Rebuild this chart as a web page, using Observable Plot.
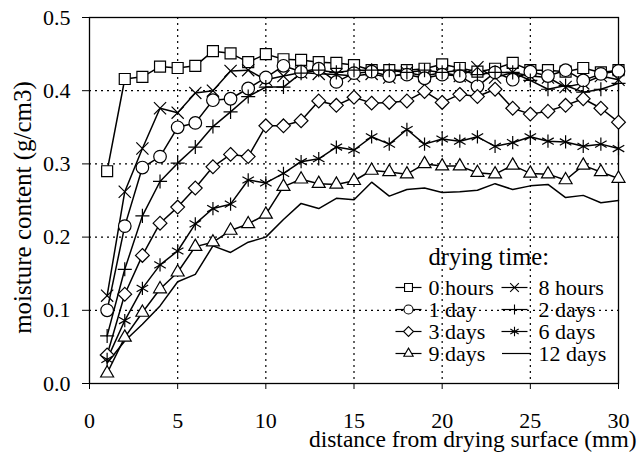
<!DOCTYPE html>
<html><head><meta charset="utf-8">
<script src="https://cdn.jsdelivr.net/npm/d3@7"></script>
<script src="https://cdn.jsdelivr.net/npm/@observablehq/plot@0.6"></script>
<style>body{margin:0;background:#fff}</style>
</head><body><div id="chart"></div>
<script>
// distance from drying surface (mm)
const distance = [1,2,3,4,5,6,7,8,9,10,11,12,13,14,15,16,17,18,19,20,21,22,23,24,25,26,27,28,29,30];
// moisture content (g/cm3) per drying time
const hours0 = [0.290,0.416,0.419,0.433,0.431,0.434,0.454,0.451,0.439,0.450,0.443,0.442,0.439,0.438,0.435,0.428,0.428,0.428,0.430,0.436,0.431,0.426,0.430,0.438,0.428,0.428,0.426,0.431,0.425,0.428];
const hours8 = [0.120,0.262,0.321,0.376,0.370,0.397,0.400,0.427,0.428,0.415,0.420,0.425,0.423,0.422,0.420,0.423,0.418,0.425,0.420,0.425,0.420,0.432,0.418,0.425,0.420,0.418,0.405,0.410,0.420,0.415];
const day1   = [0.100,0.215,0.295,0.310,0.350,0.356,0.387,0.389,0.403,0.418,0.434,0.426,0.430,0.412,0.424,0.426,0.420,0.422,0.417,0.422,0.420,0.406,0.425,0.415,0.426,0.420,0.428,0.414,0.423,0.427];
const days2  = [0.065,0.156,0.229,0.276,0.301,0.323,0.351,0.371,0.392,0.405,0.405,0.424,0.428,0.425,0.428,0.428,0.428,0.425,0.428,0.425,0.428,0.422,0.425,0.425,0.414,0.402,0.407,0.398,0.402,0.410];
const days3  = [0.039,0.122,0.175,0.219,0.241,0.267,0.296,0.313,0.310,0.352,0.352,0.359,0.386,0.380,0.391,0.383,0.384,0.386,0.399,0.384,0.395,0.392,0.402,0.376,0.368,0.372,0.380,0.389,0.376,0.357];
const days6  = [0.033,0.086,0.130,0.162,0.181,0.218,0.239,0.245,0.278,0.274,0.287,0.303,0.307,0.323,0.319,0.337,0.327,0.347,0.327,0.334,0.331,0.337,0.324,0.329,0.337,0.331,0.330,0.324,0.327,0.321];
const days9  = [0.014,0.063,0.097,0.129,0.152,0.187,0.193,0.209,0.218,0.231,0.269,0.279,0.273,0.272,0.277,0.291,0.289,0.286,0.300,0.297,0.297,0.288,0.286,0.298,0.287,0.286,0.278,0.298,0.289,0.280];
const days12 = [0.028,0.058,0.081,0.106,0.139,0.149,0.188,0.179,0.193,0.200,0.224,0.246,0.239,0.253,0.251,0.275,0.256,0.265,0.267,0.261,0.262,0.264,0.273,0.265,0.270,0.272,0.254,0.257,0.247,0.250];

const seriesNames = ["0 hours","8 hours","1 day","2 days","3 days","6 days","9 days","12 days"];
const seriesValues = [hours0, hours8, day1, days2, days3, days6, days9, days12];
const xTicks = [0,5,10,15,20,25,30];
const yTicks = [0,0.1,0.2,0.3,0.4,0.5];
const xGrid = [5,10,15,20,25];
const yGrid = [0.1,0.2,0.3,0.4];
const legendTitle = "drying time:";
const xTitle = "distance from drying surface (mm)";
const yTitle = "moisture content (g/cm3)";

const FONT = "'Liberation Serif', 'Times New Roman', serif";

// marker styles per series
const styles = [
  {symbol: "square", r: 6.2, fill: "#fff"},
  {symbol: "times", r: 5.6, fill: "none"},
  {symbol: "circle", r: 6.3, fill: "#fff"},
  {symbol: "plus", r: 4.6, fill: "none"},
  {symbol: "diamond2", r: 6.2, fill: "#fff"},
  {symbol: "asterisk", r: 6.3, fill: "none"},
  {symbol: "triangle2", r: 6.2, fill: "#fff"},
  null
];

const rows = seriesNames.map((name, i) => seriesValues[i].map((v, j) => ({name, x: distance[j], v})));

const marks = [
  Plot.gridX(xGrid, {stroke: "#000", strokeOpacity: 1, strokeWidth: 1.2, strokeDasharray: "2,4"}),
  Plot.gridY(yGrid, {stroke: "#000", strokeOpacity: 1, strokeWidth: 1.2, strokeDasharray: "2,4"}),
  Plot.frame({stroke: "#000", strokeWidth: 1.3}),
  Plot.axisX(xTicks, {tickSize: 6, tickFormat: () => "", label: null}),
  Plot.text(xTicks, {x: d => d, frameAnchor: "bottom", dy: 37, text: d => String(d), textAnchor: "middle", lineAnchor: "middle", fontSize: 22, fontFamily: FONT, fill: "#000"}),
  Plot.axisY(yTicks, {tickSize: 7, tickPadding: 12, tickFormat: d3.format(".1f"), label: null, fontSize: 22, fontFamily: FONT}),
];

rows.forEach((data) => {
  marks.push(Plot.line(data, {x: "x", y: "v", stroke: "#000", strokeWidth: 1.5}));
});
rows.forEach((data, i) => {
  const s = styles[i];
  if (s) marks.push(Plot.dot(data, {x: "x", y: "v", symbol: s.symbol, r: s.r, fill: s.fill, stroke: "#000", strokeWidth: 1.2}));
});

// legend (pixel offsets from plot frame's top-left)
const segment = w => ({draw(ctx) { ctx.moveTo(-w, 0); ctx.lineTo(w, 0); }});
const colSym = [319, 425];
const colText = [339, 449];
const rowY = [270, 292, 314, 336];
marks.push(Plot.text([legendTitle], {frameAnchor: "top-left", text: d => d, dx: 339, dy: 240, textAnchor: "start", lineAnchor: "middle", fontSize: 24.5, fontFamily: FONT, fill: "#000"}));
seriesNames.forEach((name, i) => {
  const c = i % 2, r = Math.floor(i / 2);
  const s = styles[i];
  const w = s ? 13 : 14.5;
  marks.push(Plot.dot([name], {frameAnchor: "top-left", dx: colSym[c] + (s ? 0 : 2), dy: rowY[r], symbol: segment(w), r: 5, stroke: "#000", strokeWidth: 1.2, fill: "none"}));
  if (s) marks.push(Plot.dot([name], {frameAnchor: "top-left", dx: colSym[c], dy: rowY[r], symbol: s.symbol, r: s.r * 0.72, fill: s.fill, stroke: "#000", strokeWidth: 1.1}));
  marks.push(Plot.text([name], {frameAnchor: "top-left", text: d => d, dx: colText[c], dy: rowY[r], textAnchor: "start", lineAnchor: "middle", fontSize: 22, fontFamily: FONT, fill: "#000"}));
});

marks.push(Plot.text([xTitle], {frameAnchor: "bottom-right", text: d => d, dx: 18, dy: 56, textAnchor: "end", lineAnchor: "middle", fontSize: 23.5, fontFamily: FONT, fill: "#000"}));
marks.push(Plot.text([yTitle], {frameAnchor: "left", text: d => d, dx: -67, dy: 7, rotate: -90, textAnchor: "middle", lineAnchor: "middle", fontSize: 25, fontFamily: FONT, fill: "#000"}));

const chart = Plot.plot({
  width: 639, height: 458,
  marginLeft: 89, marginRight: 21, marginTop: 17, marginBottom: 75,
  style: {fontFamily: FONT, fontSize: "22px", color: "#000", background: "#fff"},
  x: {domain: [0, 30]},
  y: {domain: [0, 0.5]},
  marks
});
document.getElementById("chart").appendChild(chart);
</script>
</body></html>
